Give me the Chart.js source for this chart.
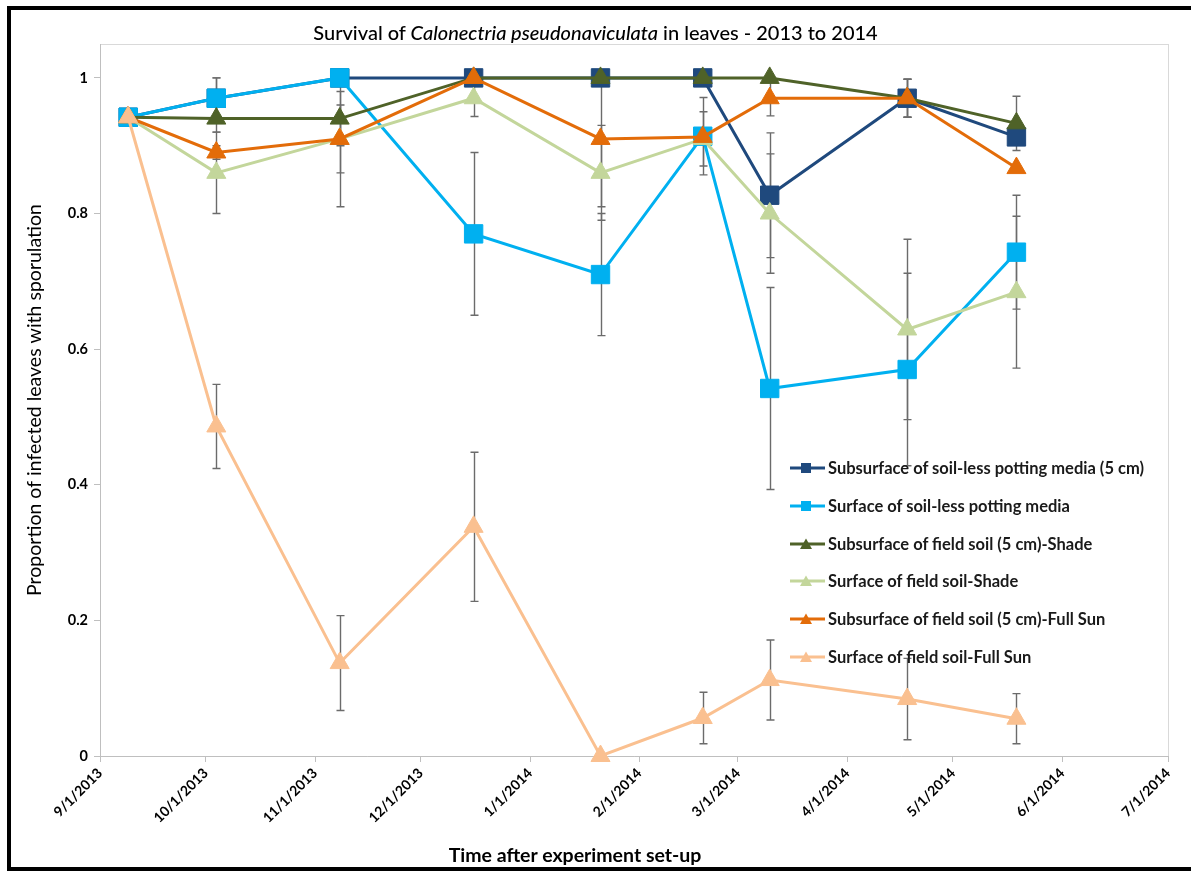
<!DOCTYPE html>
<html>
<head>
<meta charset="utf-8">
<script src="https://cdn.jsdelivr.net/npm/chart.js@4.4.1/dist/chart.umd.min.js"></script>
<style>
    html, body { margin: 0; padding: 0; background: #fff; }
    #wrap {
        position: relative; width: 1191px; height: 871px; overflow: hidden;
        font-family: Lato, "Liberation Sans", sans-serif; color: #000;
    }
    #chart { position: absolute; left: 0; top: 0; }
    #frame {
        position: absolute; left: 7px; top: 6px; width: 1200px; height: 865px;
        box-sizing: border-box; border: 4px solid #000; border-right: none;
        pointer-events: none;
    }
    #title {
        position: absolute; left: 0; top: 20px; width: 1191px;
        text-align: center; font-size: 20px; font-weight: 500;
    }
    #xTitle {
        position: absolute; left: 375px; top: 843px; width: 400px;
        text-align: center; font-size: 19.5px; font-weight: bold;
    }
    .legItem {
        position: absolute; left: 790px; height: 20px; line-height: 20px;
        font-size: 16.5px; font-weight: bold; color: #1a1a1a; white-space: nowrap;
    }
    .legItem svg { vertical-align: top; margin-right: 3px; }
</style>
</head>
<body>
<div id="wrap">
    <canvas id="chart" width="1191" height="871"></canvas>
    <div id="title">Survival of <i>Calonectria pseudonaviculata</i> in leaves - 2013 to 2014</div>
    <div id="xTitle">Time after experiment set-up</div>
    <div id="legend"></div>
    <div id="frame"></div>
</div>
<script>
// ==========================
// DATA
// ==========================

const sampleDates = [
    "2013-09-09", "2013-10-04", "2013-11-08", "2013-12-16", "2014-01-21",
    "2014-02-19", "2014-03-10", "2014-04-18", "2014-05-19"
];

const xTicks = [
    "2013-09-01", "2013-10-01", "2013-11-01", "2013-12-01", "2014-01-01", "2014-02-01",
    "2014-03-01", "2014-04-01", "2014-05-01", "2014-06-01", "2014-07-01"
];

const yTicks = [0, 0.2, 0.4, 0.6, 0.8, 1];

const seriesLabels = [
    "Subsurface of soil-less potting media (5 cm)",
    "Surface of soil-less potting media",
    "Subsurface of field soil (5 cm)-Shade",
    "Surface of field soil-Shade",
    "Subsurface of field soil (5 cm)-Full Sun",
    "Surface of field soil-Full Sun"
];

const subPotting = [0.942, 0.97, 1.0, 1.0, 1.0, 1.0, 0.827, 0.97, 0.913];
const subPottingErr = [0, 0.03, 0, 0, 0, 0, 0.092, 0.028, 0];

const surfPotting = [0.942, 0.97, 1.0, 0.77, 0.71, 0.914, 0.542, 0.57, 0.743];
const surfPottingErr = [0, 0.03, 0, 0.12, 0.09, 0.057, 0.149, 0.142, 0.084];

const subShade = [0.942, 0.94, 0.94, 1.0, 1.0, 1.0, 1.0, 0.97, 0.933];
const subShadeErr = [0, 0.02, 0.04, 0, 0, 0, 0, 0.028, 0.04];

const surfShade = [0.942, 0.86, 0.91, 0.97, 0.86, 0.91, 0.80, 0.629, 0.684];
const surfShadeErr = [0, 0.06, 0.1, 0.027, 0.07, 0.04, 0.088, 0.133, 0.112];

const subSun = [0.942, 0.89, 0.91, 1.0, 0.91, 0.913, 0.97, 0.97, 0.867];
const subSunErr = [0, 0.01, 0.05, 0, 0.1, 0, 0.026, 0.028, 0];

const surfSun = [0.942, 0.486, 0.137, 0.338, 0.0, 0.056, 0.112, 0.084, 0.055];
const surfSunErr = [0, 0.062, 0.07, 0.11, 0, 0.038, 0.059, 0.06, 0.037];

const seriesValues = [subPotting, surfPotting, subShade, surfShade, subSun, surfSun];
const seriesErrors = [subPottingErr, surfPottingErr, subShadeErr, surfShadeErr, subSunErr, surfSunErr];
const seriesColors = ["#1f497d", "#00b0f0", "#4f6228", "#c3d69b", "#e36c09", "#fac090"];
const seriesMarkers = ["rect", "rect", "triangle", "triangle", "triangle", "triangle"];

const yTitle = "Proportion of infected leaves with sporulation";


// ==========================
// HELPERS
// ==========================

function toTime(s) {
    const p = s.split("-").map(Number);
    return Date.UTC(p[0], p[1] - 1, p[2]);
}

function fmtDate(v) {
    const d = new Date(v);
    return (d.getUTCMonth() + 1) + "/" + d.getUTCDate() + "/" + d.getUTCFullYear();
}


// ==========================
// PLUGINS
// ==========================

const plotBorder = {
    id: "plotBorder",
    beforeDraw(chart) {
        const { ctx, chartArea: a } = chart;
        ctx.save();
        ctx.strokeStyle = "#d9d9d9";
        ctx.lineWidth = 1;
        ctx.strokeRect(a.left + 0.5, a.top + 0.5, a.right - a.left, a.bottom - a.top);
        ctx.restore();
    }
};

const errorBars = {
    id: "errorBars",
    beforeDatasetsDraw(chart) {
        const { ctx, scales } = chart;
        const x = scales.x;
        const y = scales.y;
        ctx.save();
        ctx.strokeStyle = "#6b6b6b";
        ctx.lineWidth = 1.4;
        chart.data.datasets.forEach(ds => {
            ds.errors.forEach((e, i) => {
                if (!e) return;
                const pt = ds.data[i];
                const px = Math.round(x.getPixelForValue(pt.x)) + 0.5;
                const top = y.getPixelForValue(pt.y + e);
                const bot = y.getPixelForValue(pt.y - e);
                ctx.beginPath();
                ctx.moveTo(px, top);
                ctx.lineTo(px, bot);
                ctx.moveTo(px - 4, top);
                ctx.lineTo(px + 4, top);
                ctx.moveTo(px - 4, bot);
                ctx.lineTo(px + 4, bot);
                ctx.stroke();
            });
        });
        ctx.restore();
    }
};


// ==========================
// CHART
// ==========================

const datasets = seriesValues.map((vals, s) => ({
    label: seriesLabels[s],
    data: vals.map((v, i) => ({ x: toTime(sampleDates[i]), y: v })),
    errors: seriesErrors[s],
    borderColor: seriesColors[s],
    backgroundColor: seriesColors[s],
    pointBackgroundColor: seriesColors[s],
    pointBorderColor: seriesColors[s],
    pointStyle: seriesMarkers[s],
    pointRadius: seriesMarkers[s] === "rect" ? 13 : 11,
    pointBorderWidth: 1,
    borderWidth: 3,
    tension: 0,
    clip: false,
    order: seriesValues.length - s
}));

new Chart(document.getElementById("chart"), {
    type: "line",
    data: { datasets: datasets },
    options: {
        responsive: false,
        animation: false,
        devicePixelRatio: 1,
        layout: { padding: { top: 44, right: 23, left: 0, bottom: 0 } },
        plugins: {
            legend: { display: false },
            title: { display: false },
            tooltip: { enabled: false }
        },
        scales: {
            x: {
                type: "linear",
                min: toTime(xTicks[0]),
                max: toTime(xTicks[xTicks.length - 1]),
                afterBuildTicks: s => { s.ticks = xTicks.map(d => ({ value: toTime(d) })); },
                afterFit: s => { s.height = 115; },
                grid: { drawOnChartArea: false, tickLength: 6, color: "#bfbfbf" },
                border: { color: "#bfbfbf" },
                ticks: {
                    autoSkip: false,
                    minRotation: 45,
                    maxRotation: 45,
                    padding: 3,
                    color: "#000",
                    font: { family: "Lato", size: 14, weight: "bold" },
                    callback: v => fmtDate(v)
                }
            },
            y: {
                min: 0,
                max: 1.05,
                afterBuildTicks: s => { s.ticks = yTicks.map(v => ({ value: v })); },
                afterFit: s => { s.width = 100; },
                grid: { drawOnChartArea: false, tickLength: 6, color: "#bfbfbf" },
                border: { color: "#bfbfbf" },
                ticks: {
                    padding: 6,
                    color: "#000",
                    font: { family: "Lato", size: 14.5, weight: "bold" },
                    callback: v => String(v)
                },
                title: {
                    display: true,
                    text: yTitle,
                    color: "#000",
                    font: { family: "Lato", size: 19.5 },
                    padding: { top: 23, bottom: 0 }
                }
            }
        }
    },
    plugins: [plotBorder, errorBars]
});


// ==========================
// LEGEND
// ==========================

const legend = document.getElementById("legend");

seriesLabels.forEach((label, s) => {
    const item = document.createElement("div");
    item.className = "legItem";
    item.style.top = (458 + s * 37.8) + "px";
    const c = seriesColors[s];
    const marker = seriesMarkers[s] === "rect"
        ? `<rect x="11" y="5" width="10" height="10" fill="${c}"/>`
        : `<polygon points="16,4.5 22,15 10,15" fill="${c}"/>`;
    item.innerHTML =
        `<svg width="35" height="20"><line x1="0" y1="10" x2="35" y2="10" stroke="${c}" stroke-width="3"/>${marker}</svg>` +
        label;
    legend.appendChild(item);
});
</script>
</body>
</html>
